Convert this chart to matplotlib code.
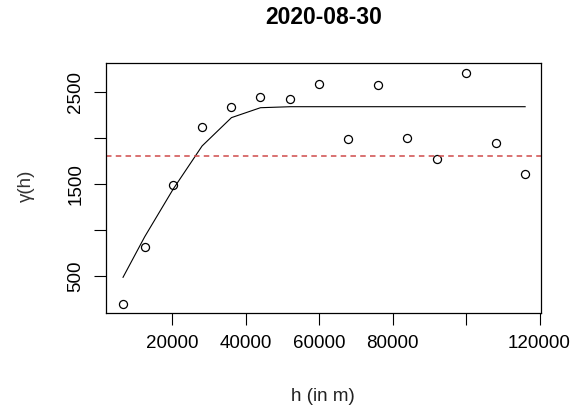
import matplotlib
matplotlib.use("Agg")
import matplotlib.pyplot as plt

plt.rcParams['font.family'] = ['Liberation Sans', 'DejaVu Sans']

# Empirical semivariogram (lag distance in m, semivariance)
lag_h = [6540, 12450, 20160, 28070, 36080, 43980, 52150, 59950,
         67850, 76020, 83920, 92100, 100000, 108170, 116080]
gamma_emp = [195, 813, 1488, 2123, 2344, 2450, 2425, 2595,
             1992, 2584, 2007, 1771, 2715, 1952, 1611]

# Fitted model evaluated at the same lags
gamma_fit = [486, 928, 1444, 1916, 2225, 2333, 2344, 2344,
             2344, 2344, 2344, 2344, 2344, 2344, 2344]

# Sample variance reference
sample_var = 1807

x_ticks = [20000, 40000, 60000, 80000, 100000, 120000]
x_tick_labels = ['20000', '40000', '60000', '80000', '', '120000']
y_ticks = [500, 1000, 1500, 2000, 2500]
y_tick_labels = ['500', '', '1500', '', '2500']

title = '2020-08-30'

W, H = 577, 411
fig = plt.figure(figsize=(W / 100, H / 100), dpi=100)
ax = fig.add_axes([106 / W, 1 - 313 / H, (541 - 106) / W, (313 - 63) / H])

ax.plot(lag_h, gamma_fit, color='black', lw=0.8)
ax.plot(lag_h, gamma_emp, linestyle='none', marker='o', markersize=5.8,
        markerfacecolor='none', markeredgecolor='black', markeredgewidth=0.9)
ax.axhline(sample_var, color='#d04a4a', lw=1.1, linestyle=(0, (3.6, 2.8)))

ax.set_xlim(1900, 120400)
ax.set_ylim(97, 2820)

ax.set_xticks(x_ticks)
ax.set_xticklabels(x_tick_labels)
ax.set_yticks(y_ticks)
ax.set_yticklabels(y_tick_labels, rotation=90, va='center')

ax.tick_params(axis='both', length=8.6, width=0.8, labelsize=13.5,
               colors='black')
ax.tick_params(axis='x', pad=7.5)
ax.tick_params(axis='y', pad=7)
for s in ax.spines.values():
    s.set_linewidth(0.9)
    s.set_color('black')

fig.text(324 / W, 1 - 17 / H, title, ha='center', va='center',
         fontsize=16.5, fontweight='bold')
fig.text(323 / W, 1 - 396 / H, 'h (in m)', ha='center', va='center',
         fontsize=13.5, color='#222222')
fig.text(26 / W, 1 - 186 / H, 'γ(h)', ha='center', va='center',
         rotation=90, fontsize=13.5, color='#333333')

fig.savefig('out.png', dpi=100)
